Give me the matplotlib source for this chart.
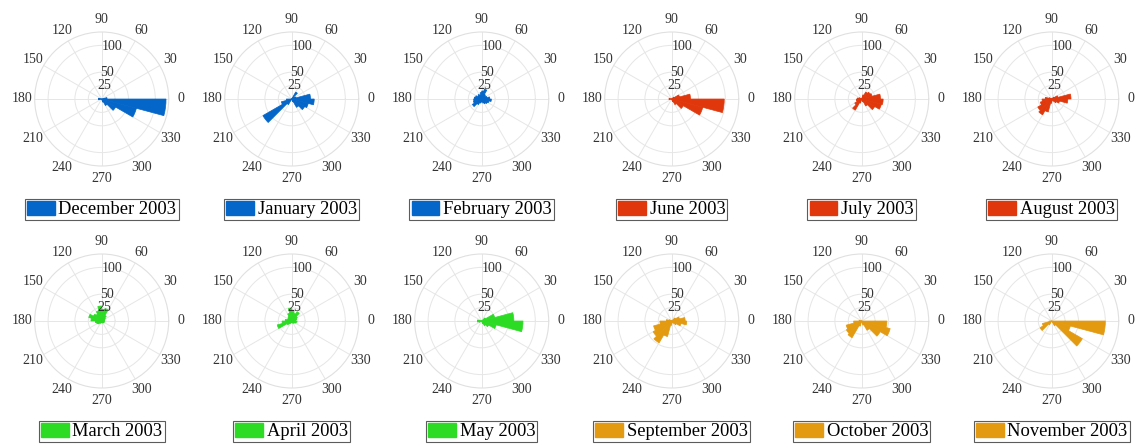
import numpy as np
import matplotlib.pyplot as plt
from matplotlib.patches import Patch

plt.rcParams['font.family'] = ['Liberation Serif', 'DejaVu Serif']

# counts per 15 degree direction bin, bin i covers [15*i, 15*i + 15)
dec = [10, 0, 0, 0, 0, 0, 0, 0, 0, 0, 0, 6, 6, 0, 0, 0, 0, 0, 0, 6, 14, 30, 67, 120]
jan = [35, 8, 5, 15, 0, 0, 0, 0, 0, 0, 0, 0, 10, 20, 62, 12, 0, 0, 0, 5, 18, 28, 32, 42]
feb = [15, 10, 8, 10, 19, 15, 12, 8, 10, 8, 12, 14, 15, 16, 20, 12, 8, 6, 5, 8, 10, 12, 14, 18]
jun = [35, 15, 5, 0, 0, 0, 0, 0, 0, 0, 0, 5, 5, 0, 0, 0, 0, 0, 0, 5, 12, 25, 60, 98]
jul = [35, 20, 18, 15, 8, 0, 0, 0, 0, 0, 5, 8, 10, 10, 15, 24, 8, 0, 0, 5, 15, 28, 38, 40]
aug = [36, 12, 5, 0, 0, 0, 0, 0, 0, 0, 5, 12, 18, 22, 30, 34, 25, 8, 0, 0, 5, 10, 15, 30]
mar = [5, 6, 8, 12, 24, 22, 28, 20, 15, 18, 25, 20, 12, 10, 8, 5, 4, 3, 3, 4, 4, 5, 5, 5]
apr = [8, 10, 12, 20, 15, 18, 24, 15, 10, 8, 8, 12, 18, 28, 10, 6, 4, 3, 3, 4, 5, 6, 8, 10]
may = [60, 25, 8, 0, 0, 0, 0, 0, 0, 0, 0, 8, 8, 5, 0, 0, 0, 0, 0, 5, 10, 15, 28, 77]
sep = [25, 15, 8, 0, 0, 0, 0, 0, 0, 0, 5, 10, 22, 35, 40, 47, 30, 8, 0, 0, 5, 10, 18, 28]
octo = [0, 0, 0, 0, 0, 0, 0, 0, 0, 0, 0, 5, 15, 30, 33, 36, 10, 0, 0, 8, 20, 40, 55, 47]
nov = [0, 0, 0, 0, 0, 0, 0, 0, 0, 0, 0, 0, 5, 18, 25, 8, 0, 0, 0, 0, 10, 66, 36, 100]

months = ['December 2003', 'January 2003', 'February 2003',
          'June 2003', 'July 2003', 'August 2003',
          'March 2003', 'April 2003', 'May 2003',
          'September 2003', 'October 2003', 'November 2003']
counts = [dec, jan, feb, jun, jul, aug, mar, apr, may, sep, octo, nov]

blue = '#0466c8'
red = '#e0380c'
green = '#2cdc24'
orange = '#e39a10'
colors = [blue] * 3 + [red] * 3 + [green] * 3 + [orange] * 3

rticks = [25, 50, 100]
rmax = 125
angles = list(range(0, 360, 30))
edges = np.deg2rad(np.arange(0, 360, 15))
width = np.deg2rad(15)

W, H = 1142, 447
fig = plt.figure(figsize=(W / 100, H / 100), dpi=100)

R = 67  # plot radius in pixels
for k in range(12):
    row, col = divmod(k, 6)
    cx = 101.7 + 190 * col
    cy = 99 + 222 * row
    ax = fig.add_axes([(cx - R) / W, (H - cy - R) / H, 2 * R / W, 2 * R / H],
                      projection='polar')
    ax.bar(edges, counts[k], width=width, align='edge',
           color=colors[k], edgecolor=colors[k], linewidth=0.5, zorder=3)
    ax.set_ylim(0, rmax)
    ax.set_yticks(rticks)
    ax.set_yticklabels([])
    # radius labels centred on their rings along the 80 degree spoke
    for r in rticks:
        ax.text(np.deg2rad(79), r, str(r), ha='center', va='center',
                fontsize=10, color='#333333', zorder=4)
    ax.set_thetagrids(angles, labels=[str(a) for a in angles],
                      fontsize=10, color='#333333')
    ax.tick_params(axis='x', pad=-1.5)
    ax.grid(color='#e6e6e6', linewidth=0.7)
    ax.spines['polar'].set_color('#e0e0e0')
    ax.spines['polar'].set_linewidth(0.8)

    ly = 209.5 + 222 * row
    leg = fig.legend(handles=[Patch(facecolor=colors[k], edgecolor=colors[k],
                                    label=months[k])],
                     loc='center', bbox_to_anchor=(cx / W, 1 - ly / H),
                     fontsize=13.3, frameon=True, fancybox=False,
                     handlelength=1.5, handleheight=0.8, handletextpad=0.2,
                     borderpad=0.12, borderaxespad=0)
    leg.get_frame().set_edgecolor('#333333')
    leg.get_frame().set_linewidth(0.8)

fig.savefig('out.png', dpi=100)
